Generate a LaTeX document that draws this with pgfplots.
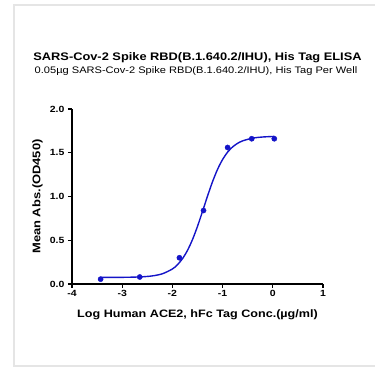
\documentclass[border=0pt]{standalone}
\usepackage{fontspec}
\setmainfont{Liberation Sans}[FakeStretch=1.17]
\usepackage{pgfplots}
\pgfplotsset{compat=1.18}
\definecolor{curveblue}{RGB}{20,20,200}
\begin{document}
\begin{tikzpicture}[x=1bp,y=1bp]
\path[use as bounding box] (0,0) rectangle (375,368);
\fill[white] (0,0) rectangle (375,368);
\draw[black!10, line width=1.2bp] (14,2) rectangle (390,363);
\node[font=\fontsize{11}{13}\selectfont\bfseries] at (197.5,310.5) {SARS-Cov-2 Spike RBD(B.1.640.2/IHU), His Tag ELISA};
\node[font=\fontsize{9.5}{11}\selectfont] at (196,297) {0.05µg SARS-Cov-2 Spike RBD(B.1.640.2/IHU), His Tag Per Well};
\begin{axis}[
  at={(72bp,84bp)}, anchor=south west,
  scale only axis, width=251bp, height=175bp,
  xmin=-4, xmax=1, ymin=0, ymax=2,
  axis x line=bottom, axis y line=left,
  axis line style={line width=1.5bp, -},
  xtick={-4,-3,...,1}, ytick={0,0.5,...,2},
  tick style={black, line width=1.2bp},
  tick align=outside, major tick length=4bp,
  yticklabel style={/pgf/number format/fixed,/pgf/number format/fixed zerofill,/pgf/number format/precision=1},
  /pgf/number format/assume math mode=true,
  ticklabel style={font=\fontsize{9}{10}\selectfont\bfseries},
  xticklabel style={yshift=1bp},
  xlabel={Log Human ACE2, hFc Tag Conc.(µg/ml)},
  ylabel={Mean Abs.(OD450)},
  every axis x label/.style={at={(axis description cs:0.5,0)}, anchor=center, yshift=-30.5bp, font=\fontsize{10.8}{12}\selectfont\bfseries},
  every axis y label/.style={at={(axis description cs:-0.137,0.5)}, anchor=center, rotate=90, font=\fontsize{11.1}{12}\selectfont\bfseries},
  clip=false,
]
\addplot[curveblue, line width=1.4bp, smooth, no marks] coordinates {
(-3.43,0.0752) (-3.2,0.0756) (-3.0,0.0763) (-2.8,0.0781) (-2.6,0.0824) (-2.4,0.0926)
(-2.2,0.1166) (-2.0,0.1715) (-1.9,0.2197) (-1.8,0.2887) (-1.7,0.3835) (-1.6,0.5074)
(-1.5,0.6588) (-1.4,0.8297) (-1.3,1.0052) (-1.2,1.170) (-1.1,1.311) (-1.0,1.423)
(-0.9,1.507) (-0.8,1.567) (-0.7,1.608) (-0.6,1.636) (-0.4,1.667) (-0.2,1.680)
(0.0,1.686) (0.03,1.687)
};
\addplot[only marks, mark=*, mark size=2.6bp, curveblue] coordinates {
(-3.43,0.055) (-2.65,0.08) (-1.86,0.30) (-1.38,0.84) (-0.90,1.56) (-0.42,1.66) (0.03,1.66)
};
\end{axis}
\end{tikzpicture}
\end{document}
